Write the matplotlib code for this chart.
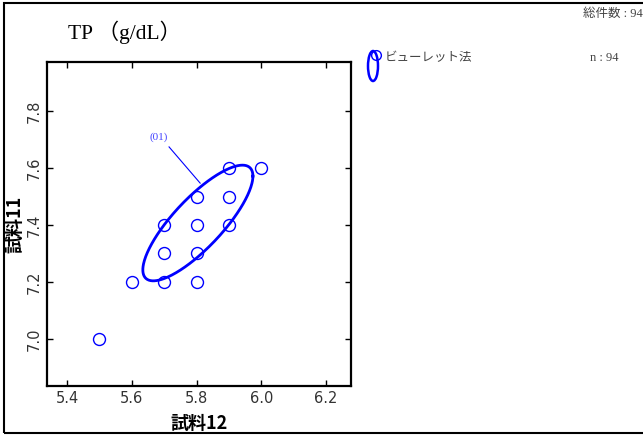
import matplotlib
matplotlib.use("Agg")
import matplotlib.pyplot as plt
import numpy as np
from matplotlib.patches import Rectangle

# data
x_vals = [5.5, 5.6, 5.7, 5.8, 5.7, 5.8, 5.7, 5.8, 5.9, 5.8, 5.9, 5.9, 6.0]
y_vals = [7.0, 7.2, 7.2, 7.2, 7.3, 7.3, 7.4, 7.4, 7.4, 7.5, 7.5, 7.6, 7.6]
x_ticks = [5.4, 5.6, 5.8, 6.0, 6.2]
y_ticks = [7.0, 7.2, 7.4, 7.6, 7.8]

# ellipse (center, half extents, correlation)
ell_center = (5.804, 7.407)
ell_extent = (0.170, 0.203)
ell_r = 0.81

title = "TP （g/dL）"
method = "ビューレット法"
n_total = 94
n_method = 94

blue = "#0000ff"
jp_serif = ["Liberation Serif", "Noto Sans CJK JP"]
jp = ["Noto Sans CJK JP", "DejaVu Sans"]

fig = plt.figure(figsize=(6.43, 4.36), dpi=100)
ax = fig.add_axes([47 / 643, 1 - 386 / 436, 304 / 643, 324 / 436])

ax.plot(x_vals, y_vals, linestyle="none", marker="o", markersize=8.6,
        markerfacecolor="none", markeredgecolor=blue, markeredgewidth=1.0)

t = np.linspace(0, 2 * np.pi, 300)
ex = ell_center[0] + ell_extent[0] * np.cos(t)
ey = ell_center[1] + ell_extent[1] * (ell_r * np.cos(t) + np.sqrt(1 - ell_r ** 2) * np.sin(t))
ax.plot(ex, ey, color=blue, linewidth=2.0)

# label for ellipse
ax.plot([5.715, 5.811], [7.674, 7.547], color=blue, linewidth=0.8)
ax.text(5.71, 7.69, "(01)", color="#4444ff", fontsize=8, family=jp_serif,
        ha="right", va="bottom")

ax.set_xlim(5.338, 6.277)
ax.set_ylim(6.835, 7.972)
ax.set_xticks(x_ticks)
ax.set_yticks(y_ticks)
ax.set_xticklabels(["%.1f" % v for v in x_ticks])
ax.set_yticklabels(["%.1f" % v for v in y_ticks], rotation=90, va="center")
ax.tick_params(direction="in", top=True, right=True, length=4, labelsize=10.5,
               labelcolor="#333333", width=1)
for s in ax.spines.values():
    s.set_linewidth(1.6)

ax.set_xlabel("試料12", family=jp, fontsize=13, fontweight="bold", labelpad=6)
ax.set_ylabel("試料11", family=jp, fontsize=13, fontweight="bold", labelpad=2)

# outer border
fig.patches.append(Rectangle((4 / 643, 3 / 436), 700 / 643, 430 / 436,
                             transform=fig.transFigure, fill=False,
                             edgecolor="black", linewidth=1.5))

fig.text(68 / 643, 1 - 32 / 436, title, family=jp_serif, fontsize=15.5,
         va="center", ha="left")
fig.text(643 / 643, 1 - 14 / 436, "総件数 : %d" % n_total, family=jp_serif,
         fontsize=9, color="#444444", va="center", ha="right")

# legend
ly = 1 - 66 / 436
lx = 373 / 643
fig.add_artist(matplotlib.patches.Ellipse((lx, ly), 10 / 643, 30 / 436,
                                          transform=fig.transFigure, fill=False,
                                          edgecolor=blue, linewidth=1.8))
fig.add_artist(matplotlib.lines.Line2D([376 / 643], [1 - 55 / 436], marker="o",
                                       markersize=7, markerfacecolor="none",
                                       markeredgecolor=blue,
                                       transform=fig.transFigure))
fig.text(385 / 643, 1 - 58 / 436, method, family=jp_serif, fontsize=9,
         color="#444444", va="center", ha="left")
fig.text(590 / 643, 1 - 58 / 436, "n : %d" % n_method, family=jp_serif,
         fontsize=9, color="#444444", va="center", ha="left")

fig.savefig("out.png", dpi=100)
